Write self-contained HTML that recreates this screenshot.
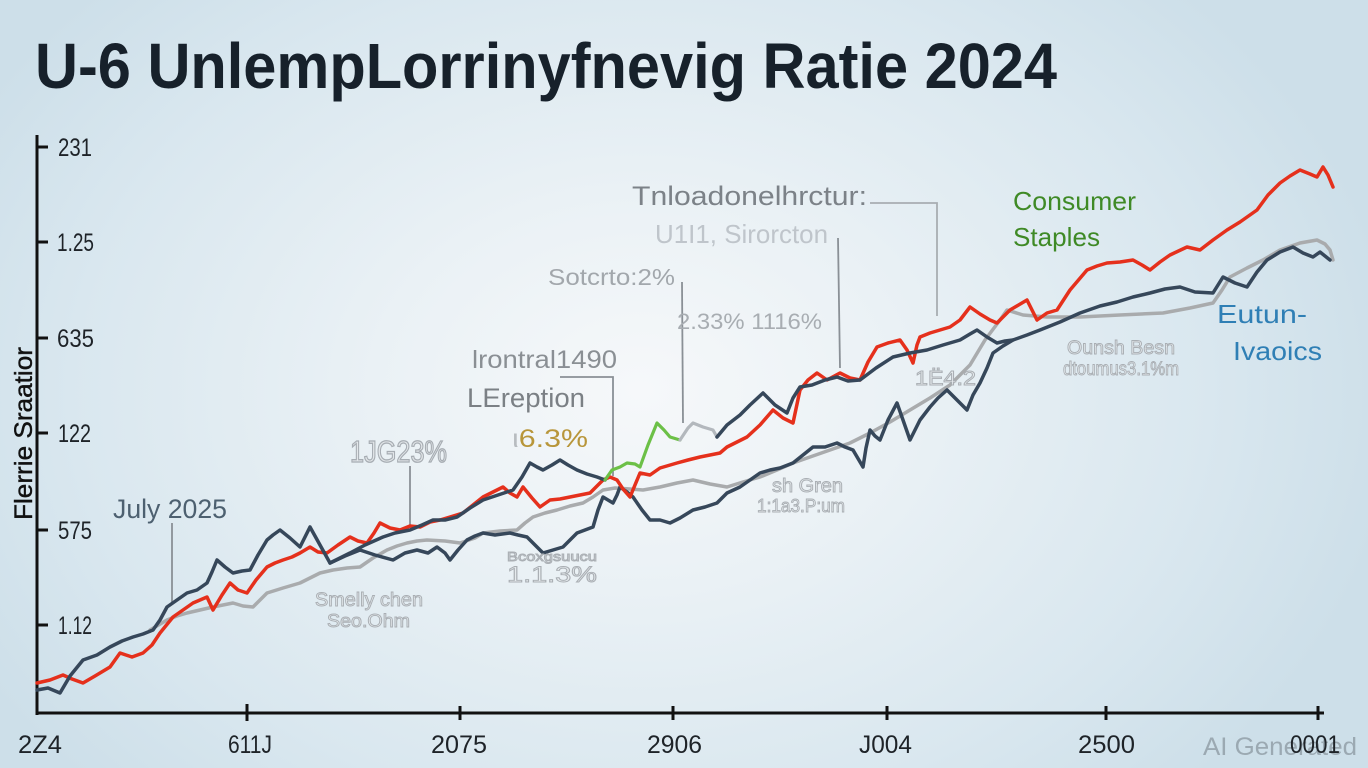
<!DOCTYPE html>
<html>
<head>
<meta charset="utf-8">
<style>
  html,body{margin:0;padding:0;width:1368px;height:768px;overflow:hidden;background:#dbe8f0;}
  svg{display:block;}
  text{font-family:"Liberation Sans", "DejaVu Sans", sans-serif;}
</style>
</head>
<body>
<svg width="1368" height="768" viewBox="0 0 1368 768" xmlns="http://www.w3.org/2000/svg">
  <defs>
    <radialGradient id="bg" cx="640" cy="390" r="760" gradientUnits="userSpaceOnUse" gradientTransform="translate(640 390) scale(1 0.75) translate(-640 -390)">
      <stop offset="0" stop-color="#f6f8fa"/>
      <stop offset="0.35" stop-color="#eaf1f5"/>
      <stop offset="0.75" stop-color="#d9e7ef"/>
      <stop offset="1" stop-color="#cddfe9"/>
    </radialGradient>
  </defs>
  <rect x="0" y="0" width="1368" height="768" fill="url(#bg)"/>

  <!-- Title -->
  <text x="35" y="88" font-size="64" font-weight="bold" fill="#17212b" textLength="1022" lengthAdjust="spacingAndGlyphs">U-6 UnlempLorrinyfnevig Ratie 2024</text>

  <!-- Axes -->
  <line x1="37" y1="135" x2="37" y2="715" stroke="#111" stroke-width="3"/>
  <line x1="36" y1="713" x2="1324" y2="713" stroke="#111" stroke-width="3"/>
  <g stroke="#111" stroke-width="3">
    <line x1="37" y1="147" x2="48" y2="147"/>
    <line x1="37" y1="242" x2="48" y2="242"/>
    <line x1="37" y1="338" x2="48" y2="338"/>
    <line x1="37" y1="433" x2="48" y2="433"/>
    <line x1="37" y1="530" x2="48" y2="530"/>
    <line x1="37" y1="625" x2="48" y2="625"/>
    <line x1="247" y1="704" x2="247" y2="721"/>
    <line x1="460" y1="706" x2="460" y2="720"/>
    <line x1="673" y1="706" x2="673" y2="720"/>
    <line x1="887" y1="706" x2="887" y2="720"/>
    <line x1="1106" y1="706" x2="1106" y2="720"/>
    <line x1="1318" y1="706" x2="1318" y2="720"/>
  </g>

  <!-- Y tick labels -->
  <g font-size="25" fill="#1e2328">
    <text x="58" y="156" textLength="34" lengthAdjust="spacingAndGlyphs">231</text>
    <text x="57" y="251" textLength="37" lengthAdjust="spacingAndGlyphs">1.25</text>
    <text x="57" y="347" textLength="37" lengthAdjust="spacingAndGlyphs">635</text>
    <text x="58" y="442" textLength="33" lengthAdjust="spacingAndGlyphs">122</text>
    <text x="58" y="539" textLength="34" lengthAdjust="spacingAndGlyphs">575</text>
    <text x="58" y="634" textLength="34" lengthAdjust="spacingAndGlyphs">1.12</text>
  </g>

  <!-- Y axis title -->
  <text transform="translate(32,520) rotate(-90)" x="0" y="0" font-size="25" fill="#111" stroke="#111" stroke-width="0.4" textLength="173" lengthAdjust="spacingAndGlyphs">Flerrie Sraatior</text>

  <!-- X tick labels -->
  <g font-size="25" fill="#1e2328">
    <text x="18" y="753" textLength="44" lengthAdjust="spacingAndGlyphs">2Z4</text>
    <text x="228" y="753" textLength="44" lengthAdjust="spacingAndGlyphs">611J</text>
    <text x="431" y="753" textLength="56" lengthAdjust="spacingAndGlyphs">2075</text>
    <text x="647" y="753" textLength="55" lengthAdjust="spacingAndGlyphs">2906</text>
    <text x="859" y="753" textLength="53" lengthAdjust="spacingAndGlyphs">J004</text>
    <text x="1078" y="753" textLength="57" lengthAdjust="spacingAndGlyphs">2500</text>
  </g>
  <text x="1203" y="755" font-size="25" fill="#8f9ba4" fill-opacity="0.8" textLength="154" lengthAdjust="spacingAndGlyphs">AI Generated</text>
  <text x="1290" y="753" font-size="25" fill="#1e2328" textLength="50" lengthAdjust="spacingAndGlyphs">0001</text>

  <!-- Annotation leader lines -->
  <g stroke="#8a9096" stroke-width="1.8" fill="none">
    <line x1="172" y1="523" x2="172" y2="605"/>
    <line x1="410" y1="466" x2="410" y2="528"/>
    <polyline points="560,377 613,377 613,476"/>
    <line x1="682" y1="282" x2="683" y2="423"/>
    <polyline points="870,203 937,203 937,316" stroke="#a8adb2"/>
    <line x1="838" y1="238" x2="840" y2="368"/>
  </g>

  <!-- Series: gray -->
  <polyline fill="none" stroke="#a9abad" stroke-width="3.5" stroke-linejoin="round" stroke-linecap="round" points="
    150,630 167,620 177,616 187,613 200,610 213,607 223,605 233,603 243,606 253,607 260,600 267,593 283,588 300,583 310,578 320,573 333,570 347,568 360,567 373,558 387,550 397,546 407,543 417,541 427,540 445,541 460,543 475,538 483,533 500,531 517,530 525,523 533,517 545,513 557,510 570,506 583,503 593,497 603,490 615,488 630,489 643,490 660,487 677,483 693,480 710,484 727,487 743,482 760,477 777,470 793,463 810,457 830,450 850,443 870,433 890,422 910,410 930,398 950,385 970,365 985,340 1000,320 1007,310 1023,315 1047,317 1080,317 1120,315 1163,313 1190,308 1213,303 1222,290 1230,277 1247,268 1263,260 1280,250 1300,243 1317,240 1325,244 1330,250 1333,260"/>

  <!-- Series: dark lower -->
  <polyline fill="none" stroke="#36475a" stroke-width="3.5" stroke-linejoin="round" stroke-linecap="round" points="
    330,563 345,556 360,550 375,555 393,560 405,553 417,550 428,553 437,547 445,553 450,560 458,550 467,540 475,536 483,533 495,535 510,533 518,535 527,537 535,545 543,553 553,550 563,547 570,540 577,533 585,530 593,527 598,510 603,497 608,500 613,503 617,495 620,487 627,492 633,497 642,510 650,520 660,520 670,523 680,518 693,510 705,507 717,503 727,493 740,487 750,480 760,473 770,470 780,468 793,463 803,455 813,447 825,447 837,443 845,447 853,450 863,467 866,448 870,430 875,436 880,440 888,420 897,403 903,420 910,440 920,420 930,407 938,398 947,390 957,400 967,410 973,395 980,383 987,368 993,353 1003,346 1013,340"/>

  <!-- Series: red -->
  <polyline fill="none" stroke="#e5301c" stroke-width="3.5" stroke-linejoin="round" stroke-linecap="round" points="
    37,683 50,680 63,675 72,679 83,683 95,676 110,667 120,653 132,657 143,653 152,645 160,633 173,617 183,610 193,603 207,597 213,610 222,595 230,583 238,590 247,593 256,580 267,567 275,563 283,560 292,557 300,553 310,547 318,552 327,553 338,545 350,537 358,541 367,543 374,533 380,523 390,528 400,530 410,526 420,527 430,522 440,520 450,517 463,513 473,505 483,497 493,492 503,487 510,493 517,497 523,487 532,498 540,507 550,500 560,499 570,497 580,495 590,493 597,486 603,480 610,477 617,480 623,489 630,497 640,473 650,475 660,468 677,463 688,460 700,457 710,455 720,453 727,447 737,442 747,437 760,425 773,410 783,418 793,423 800,390 808,380 817,373 827,380 840,373 850,378 860,380 868,362 877,347 888,343 900,340 907,350 913,363 917,345 920,337 930,333 940,330 950,327 960,320 970,307 980,314 990,320 997,323 1010,310 1027,300 1037,320 1047,313 1057,310 1070,290 1087,270 1097,266 1107,263 1120,262 1133,260 1142,265 1150,270 1160,262 1170,255 1187,247 1200,250 1213,240 1227,230 1240,222 1257,210 1268,195 1280,183 1290,176 1300,170 1310,174 1317,177 1323,167 1328,175 1333,187"/>

  <!-- Series: dark upper -->
  <polyline fill="none" stroke="#36475a" stroke-width="3.5" stroke-linejoin="round" stroke-linecap="round" points="
    37,690 48,688 60,693 70,676 83,660 97,655 110,647 122,641 133,637 143,634 153,630 160,620 167,607 177,600 187,593 197,590 207,583 212,572 217,560 225,567 233,573 242,571 250,570 258,555 267,540 273,535 280,530 290,538 300,547 305,537 310,527 320,545 330,563 340,558 350,553 365,545 383,537 395,533 410,530 422,525 433,520 445,520 457,517 470,508 483,500 498,495 513,490 522,477 530,463 537,467 543,470 552,465 560,460 568,465 577,470 587,474 597,477 605,480"/>
  <polyline fill="none" stroke="#6cc047" stroke-width="3.2" stroke-linejoin="round" stroke-linecap="round" points="
    605,480 612,470 620,467 627,463 635,464 640,467 648,445 657,423 664,430 670,437 680,440"/>
  <polyline fill="none" stroke="#b3b8bd" stroke-width="3.2" stroke-linejoin="round" stroke-linecap="round" points="
    680,440 688,428 693,423 703,427 713,430 717,437"/>
  <polyline fill="none" stroke="#36475a" stroke-width="3.5" stroke-linejoin="round" stroke-linecap="round" points="
    717,437 727,425 740,415 750,405 763,393 775,405 787,413 793,398 800,387 812,385 825,380 837,377 848,381 860,380 876,368 893,357 910,353 927,350 943,345 960,340 970,334 977,330 987,337 997,343 1005,341 1013,340 1027,335 1040,330 1060,322 1080,313 1100,306 1117,302 1133,297 1150,293 1165,289 1180,287 1195,292 1213,293 1223,277 1235,283 1247,287 1257,272 1267,260 1280,252 1293,247 1303,253 1313,257 1320,252 1330,260"/>

  <!-- Annotations -->
  <text x="113" y="518" font-size="27" fill="#4d6070" textLength="114" lengthAdjust="spacingAndGlyphs">July 2025</text>
  <text x="350" y="462" font-size="31" fill="#e3e7ea" stroke="#a7adb3" stroke-width="1.3" font-family="Liberation Serif, serif" textLength="97" lengthAdjust="spacingAndGlyphs">1JG23%</text>

  <text x="632" y="205" font-size="27" fill="#7c8288" textLength="235" lengthAdjust="spacingAndGlyphs">Tnloadonelhrctur:</text>
  <text x="655" y="243" font-size="26" fill="#bfc5cb" textLength="173" lengthAdjust="spacingAndGlyphs">U1I1, Sirorcton</text>
  <text x="548" y="285" font-size="23" fill="#a2a7ac" textLength="127" lengthAdjust="spacingAndGlyphs">Sotcrto:2%</text>
  <text x="677" y="329" font-size="22" fill="#a8adb2" textLength="145" lengthAdjust="spacingAndGlyphs">2.33% 1116%</text>
  <text x="472" y="368" font-size="25" fill="#8a8f94" textLength="145" lengthAdjust="spacingAndGlyphs">lrontral1490</text>
  <text x="467" y="407" font-size="27" fill="#7b8085" textLength="118" lengthAdjust="spacingAndGlyphs">LEreption</text>
  <text x="512" y="447" font-size="25" fill="#b8963a" textLength="76" lengthAdjust="spacingAndGlyphs"><tspan fill="#b8bcc0">ι</tspan>6.3%</text>

  <text x="1013" y="210" font-size="26" fill="#3f8a26" textLength="123" lengthAdjust="spacingAndGlyphs">Consumer</text>
  <text x="1013" y="246" font-size="26" fill="#3f8a26" textLength="87" lengthAdjust="spacingAndGlyphs">Staples</text>
  <text x="1217" y="323" font-size="26" fill="#2f7fb5" textLength="90" lengthAdjust="spacingAndGlyphs">Eutun-</text>
  <text x="1233" y="360" font-size="26" fill="#2f7fb5" textLength="89" lengthAdjust="spacingAndGlyphs">Ivaoics</text>

  <g fill="#e6ebee" stroke="#a9aeb3" stroke-width="0.9" font-family="Liberation Serif, serif">
    <text x="1067" y="354" font-size="19" textLength="108" lengthAdjust="spacingAndGlyphs">Ounsh Besn</text>
    <text x="1063" y="375" font-size="19" textLength="116" lengthAdjust="spacingAndGlyphs">dtoumus3.1%m</text>
    <text x="915" y="385" font-size="20" textLength="61" lengthAdjust="spacingAndGlyphs">1Ë4.2</text>
    <text x="772" y="492" font-size="19" textLength="71" lengthAdjust="spacingAndGlyphs">sh Gren</text>
    <text x="757" y="512" font-size="18" textLength="88" lengthAdjust="spacingAndGlyphs">1:1a3.P:um</text>
    <text x="507" y="561" font-size="13" textLength="90" lengthAdjust="spacingAndGlyphs">Bcoxgsuucu</text>
    <text x="507" y="582" font-size="22" textLength="90" lengthAdjust="spacingAndGlyphs">1.1.3%</text>
    <text x="315" y="606" font-size="19" textLength="108" lengthAdjust="spacingAndGlyphs">Smelly chen</text>
    <text x="327" y="627" font-size="18" textLength="83" lengthAdjust="spacingAndGlyphs">Seo.Ohm</text>
  </g>
</svg>
</body>
</html>
